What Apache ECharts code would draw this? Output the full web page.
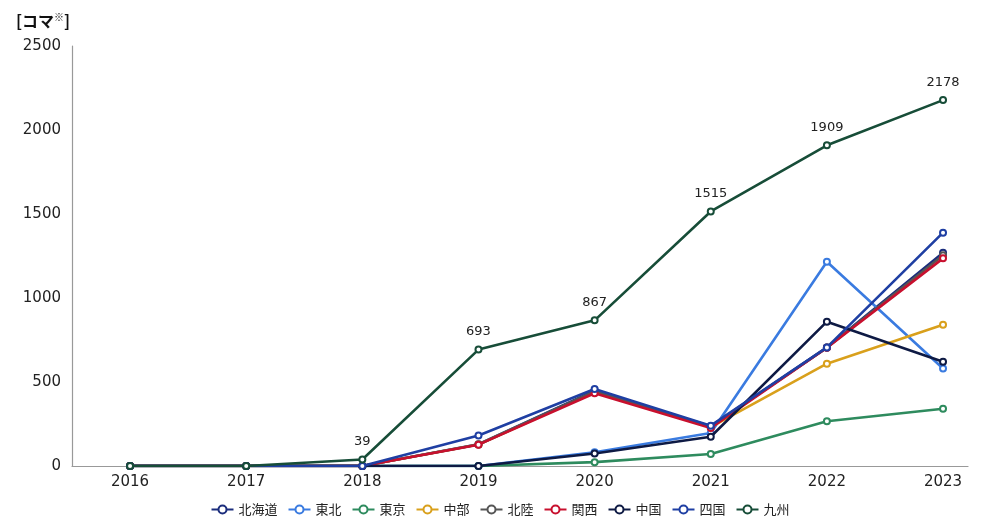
<!DOCTYPE html>
<html>
<head>
<meta charset="utf-8">
<script src="https://cdn.jsdelivr.net/npm/echarts@6/dist/echarts.min.js"></script>
<style>html,body{margin:0;padding:0;background:#fff}#c{width:1000px;height:529px}</style>
</head>
<body>
<div id="c"></div>
<script>
const years = [2016, 2017, 2018, 2019, 2020, 2021, 2022, 2023];
const yTicks = [0, 500, 1000, 1500, 2000, 2500];
const hokkaido = [0, 0, 0, 130, 448, 236, 705, 1270];
const tohoku   = [0, 0, 0, 0, 82, 196, 1216, 580];
const tokyo    = [0, 0, 0, 0, 23, 71, 266, 341];
const chubu    = [0, 0, 0, 128, 440, 232, 609, 841];
const hokuriku = [0, 0, 0, 128, 445, 234, 705, 1255];
const kansai   = [0, 0, 0, 127, 433, 226, 704, 1236];
const chugoku  = [0, 0, 0, 0, 74, 174, 859, 621];
const shikoku  = [0, 0, 0, 182, 458, 240, 706, 1389];
const kyushu   = [0, 0, 39, 693, 867, 1515, 1909, 2178];

const names = ['北海道','東北','東京','中部','北陸','関西','中国','四国','九州'];
const values = [hokkaido, tohoku, tokyo, chubu, hokuriku, kansai, chugoku, shikoku, kyushu];
const colors = ['#1b2d7c','#3a7be0','#2e8b5e','#d9a01c','#555555','#c8102e','#0e1a44','#1f3fa3','#174d38'];

const numFont = 'DejaVu Sans';

const series = names.map((n, i) => ({
  name: n,
  type: 'line',
  data: years.map((y, j) => [y, values[i][j]]),
  symbol: 'emptyCircle',
  symbolSize: 6,
  lineStyle: { width: 2.6, color: colors[i] },
  itemStyle: { color: colors[i], borderWidth: 1.4 },
  z: 2 + i,
  label: n === '九州' ? {
    show: true, position: 'top', distance: 7,
    fontSize: 13, color: '#222', fontFamily: numFont,
    formatter: p => p.value[1] > 0 ? String(p.value[1]) : ''
  } : { show: false }
}));

const chart = echarts.init(document.getElementById('c'), null, { renderer: 'canvas' });
chart.setOption({
  animation: false,
  textStyle: { fontFamily: 'Noto Sans CJK JP' },
  title: {
    text: '[コマ{s|※}]',
    left: 11, top: 7,
    textStyle: {
      fontSize: 16, fontWeight: 'bold', color: '#111', fontFamily: 'Noto Sans CJK JP',
      rich: { s: { fontSize: 10, fontWeight: 'bold', color: '#111', verticalAlign: 'top', padding: [0,0,8,0] } }
    }
  },
  grid: { left: 72, right: 32, top: 46, bottom: 63, containLabel: false },
  xAxis: {
    type: 'value',
    min: 2015.5, max: 2023.215,
    axisLine: { show: true, lineStyle: { color: '#999', width: 1.2 } },
    axisTick: { show: false },
    splitLine: { show: false },
    axisLabel: {
      customValues: years,
      formatter: v => String(v),
      fontSize: 15, color: '#222', margin: 9, fontFamily: numFont
    }
  },
  yAxis: {
    type: 'value',
    min: 0, max: 2500, interval: 500,
    axisLine: { show: true, lineStyle: { color: '#999', width: 1.2 } },
    axisTick: { show: false },
    splitLine: { show: false },
    axisLabel: {
      customValues: yTicks,
      formatter: v => String(v),
      fontSize: 15, color: '#222', margin: 11, fontFamily: numFont
    }
  },
  legend: {
    bottom: 8, left: 'center',
    itemWidth: 22, itemHeight: 10, itemGap: 10,
    textStyle: { fontSize: 13, color: '#222', fontFamily: 'Noto Sans CJK JP' },
    data: names
  },
  series: series
});
</script>
</body>
</html>
